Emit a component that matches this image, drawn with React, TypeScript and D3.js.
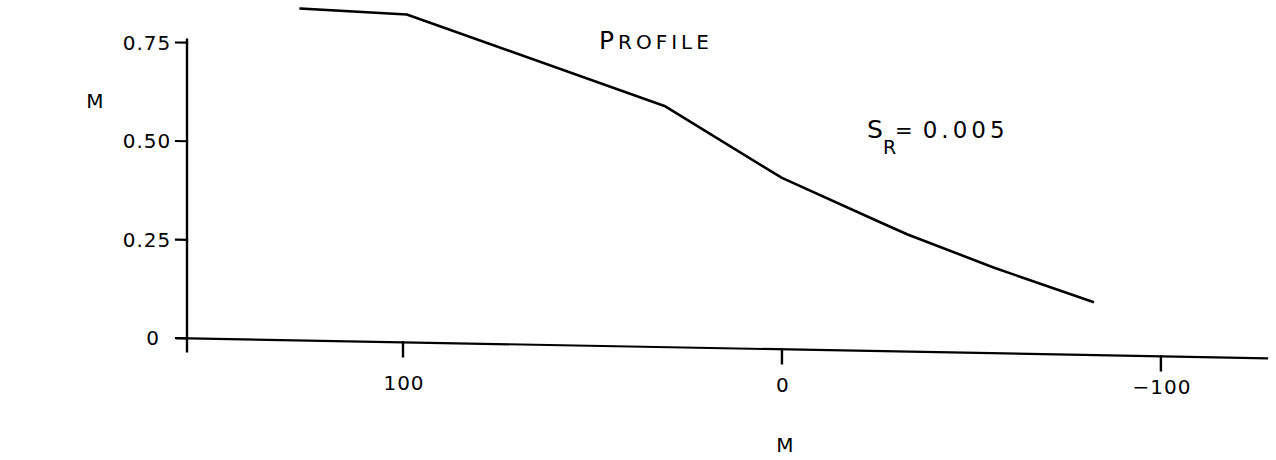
import React from "react";
import * as d3 from "d3";

// Profile: distance (M) vs height (M)
const profileDistance = [127, 99, 31, 0, -24, -33, -56, -82];
const profileHeight = [0.842, 0.832, 0.612, 0.435, 0.335, 0.298, 0.217, 0.135];

const xTickValues = [100, 0, -100];
const xTickLabels = ["100", "0", "\u2212100"];
const yTickValues = [0, 0.25, 0.5, 0.75];
const yTickLabels = ["0", "0.25", "0.50", "0.75"];

const W = 1276;
const H = 460;
const FONT = "'DejaVu Sans', 'Liberation Sans', sans-serif";

export default function App() {
  const x = d3.scaleLinear().domain([157, -128]).range([187, 1267]);
  const y = d3.scaleLinear().domain([0, 0.75]).range([338.3, 42.7]);

  // the plotted frame leans slightly downward to the right
  const skewDeg = (Math.atan(20 / 1079) * 180) / Math.PI;
  const x0 = x.range()[0];
  const frame = `translate(${x0},0) skewY(${skewDeg}) translate(${-x0},0)`;

  const points = profileDistance.map((d, i) => [d, profileHeight[i]] as [number, number]);
  const line = d3
    .line<[number, number]>()
    .x((d) => x(d[0]))
    .y((d) => y(d[1]));

  const y0 = y(0);
  const shift = (px: number) => (px - x0) * Math.tan((skewDeg * Math.PI) / 180);

  return (
    <svg
      width={W}
      height={H}
      style={{ position: "absolute", left: 0, top: 0, background: "#fff" }}
      fontFamily={FONT}
    >
      <rect width={W} height={H} fill="#fff" />
      <g transform={frame} stroke="#000" fill="none" strokeLinecap="square">
        {/* y axis */}
        <line x1={x0} x2={x0} y1={y(0.75) - 3} y2={y0 + 13} strokeWidth={2.4} />
        {yTickValues.map((v) => (
          <line key={v} x1={x0 - 11} x2={x0} y1={y(v)} y2={y(v)} strokeWidth={2.2} />
        ))}
        {/* x axis */}
        <line x1={x0 - 10} x2={x.range()[1]} y1={y0} y2={y0} strokeWidth={2.2} />
        {xTickValues.map((v) => (
          <line key={v} x1={x(v)} x2={x(v)} y1={y0} y2={y0 + 14} strokeWidth={2.4} />
        ))}
        {/* profile */}
        <path d={line(points) ?? ""} strokeWidth={2.6} strokeLinejoin="round" />
      </g>

      {/* tick labels */}
      <g fontSize={20} fill="#000" letterSpacing={1}>
        {yTickValues.map((v, i) => (
          <text key={v} x={v === 0 ? 153 : 147} y={y(v) + 7} textAnchor="middle">
            {yTickLabels[i]}
          </text>
        ))}
        {xTickValues.map((v, i) => (
          <text key={v} x={x(v) + 1} y={389 + shift(x(v)) * 0.25} textAnchor="middle">
            {xTickLabels[i]}
          </text>
        ))}
      </g>

      {/* axis titles */}
      <text x={95} y={108} fontSize={20} textAnchor="middle">M</text>
      <text x={785} y={452} fontSize={20} textAnchor="middle">M</text>

      {/* annotations */}
      <text x={599} y={49} letterSpacing={4}>
        <tspan fontSize={25}>P</tspan>
        <tspan fontSize={20}>ROFILE</tspan>
      </text>
      <text x={867} y={138} letterSpacing={2}>
        <tspan fontSize={25}>S</tspan>
        <tspan fontSize={19} dx={-2} dy={16}>R</tspan>
        <tspan fontSize={21} dx={-3} dy={-16}>=</tspan>
        <tspan fontSize={23} dx={8} letterSpacing={4}>0.005</tspan>
      </text>
    </svg>
  );
}
